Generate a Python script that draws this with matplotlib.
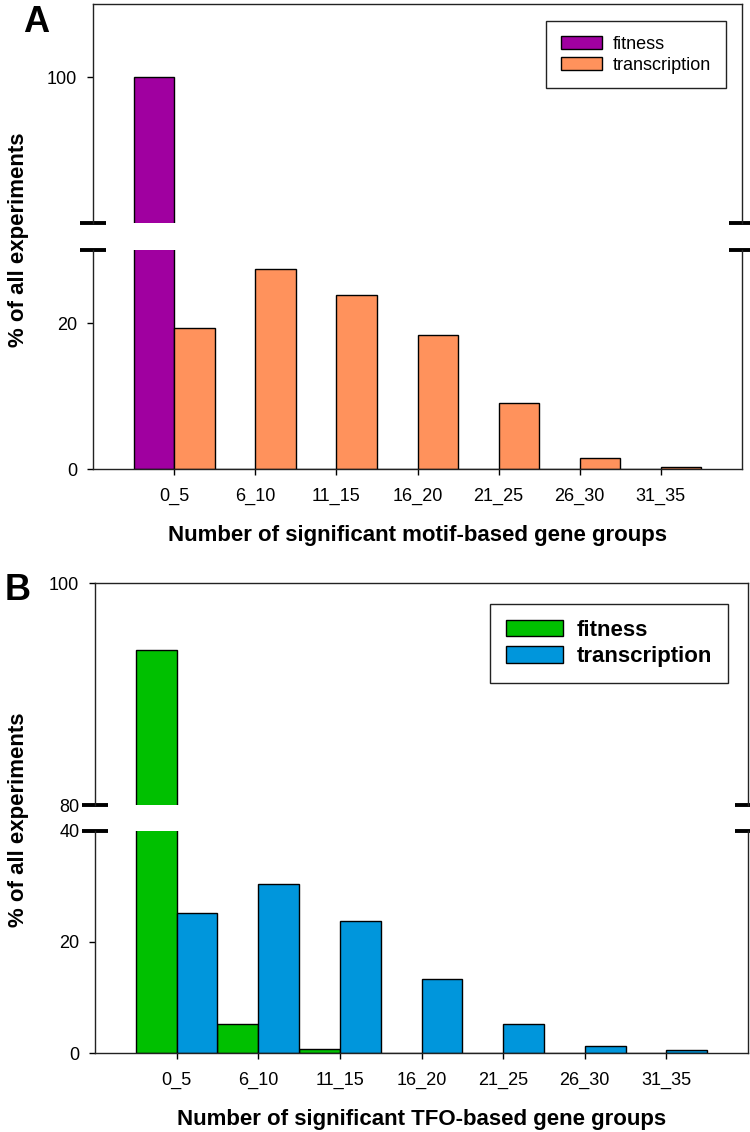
import numpy as np
import matplotlib
matplotlib.use("Agg")
import matplotlib.pyplot as plt

plt.rcParams['font.family'] = ['Liberation Sans', 'DejaVu Sans']

groups = ["0_5", "6_10", "11_15", "16_20", "21_25", "26_30", "31_35"]

# panel A: motif-based gene groups
motif_fitness = [100, 0, 0, 0, 0, 0, 0]
motif_transcription = [19.3, 27.4, 23.8, 18.4, 9.1, 1.5, 0.25]

# panel B: TFO-based gene groups
tfo_fitness = [94.0, 5.3, 0.7, 0, 0, 0, 0]
tfo_transcription = [25.3, 30.5, 23.7, 13.4, 5.2, 1.2, 0.6]

colors_a = ["#a000a0", "#ff925c"]
colors_b = ["#00c000", "#0096dc"]

W, H = 750, 1132
fig = plt.figure(figsize=(W / 100, H / 100), dpi=100)


def px_axes(x0, x1, y0, y1):
    return fig.add_axes([x0 / W, 1 - y1 / H, (x1 - x0) / W, (y1 - y0) / H])


def draw_panel(ax_top, ax_bot, fit, trans, colors, top_lim, bot_lim, top_ticks, bot_ticks,
               xlabel, leg_anchor, leg_bold):
    x = np.arange(len(groups))
    for ax in (ax_top, ax_bot):
        ax.bar(x - 0.25, fit, 0.5, color=colors[0], edgecolor="black", linewidth=1.0, label="fitness")
        ax.bar(x + 0.25, trans, 0.5, color=colors[1], edgecolor="black", linewidth=1.0, label="transcription")
        ax.set_xlim(-1, 7)
        for s in ax.spines.values():
            s.set_linewidth(1.0)
            s.set_color("#222222")
        ax.tick_params(axis="y", direction="out", length=4.3, width=1.0, pad=7, labelsize=13)
        ax.tick_params(axis="x", direction="out", length=4.3, width=1.0, labelsize=13)
    ax_top.set_ylim(*top_lim)
    ax_bot.set_ylim(*bot_lim)
    ax_top.set_yticks(top_ticks)
    ax_bot.set_yticks(bot_ticks)
    ax_top.spines["bottom"].set_visible(False)
    ax_bot.spines["top"].set_visible(False)
    ax_top.set_xticks([])
    ax_bot.set_xticks(x)
    ax_bot.set_xticklabels(groups)
    ax_bot.tick_params(axis="x", pad=9)
    ax_bot.set_xlabel(xlabel, fontsize=16, fontweight="bold", labelpad=15)

    # break marks
    d = 0.02
    for ax, yy in ((ax_top, 0), (ax_bot, 1)):
        for xx in (0, 1):
            ax.plot([xx - d, xx + d], [yy, yy], transform=ax.transAxes, color="black",
                    lw=2.8, clip_on=False, solid_capstyle="butt")

    leg = ax_top.legend(loc="upper right", bbox_to_anchor=leg_anchor, borderaxespad=0,
                        fancybox=False, framealpha=1, edgecolor="#222222",
                        prop={"size": 16 if leg_bold else 13, "weight": "bold" if leg_bold else "normal"},
                        handlelength=2.6 if leg_bold else 2.3, handleheight=0.75,
                        handletextpad=0.6, borderpad=0.7 if leg_bold else 0.8, labelspacing=0.25)
    leg.get_frame().set_linewidth(1.0)


a_top = px_axes(93, 742, 4, 223)
a_bot = px_axes(93, 742, 250, 469)
draw_panel(a_top, a_bot, motif_fitness, motif_transcription, colors_a,
           (80, 110), (0, 30), [100], [0, 20],
           "Number of significant motif-based gene groups", (0.975, 0.922), False)

b_top = px_axes(95, 748, 583, 805)
b_bot = px_axes(95, 748, 831, 1053)
draw_panel(b_top, b_bot, tfo_fitness, tfo_transcription, colors_b,
           (80, 100), (0, 40), [80, 100], [0, 20, 40],
           "Number of significant TFO-based gene groups", (0.969, 0.905), True)

fig.text(19 / W, 1 - 240 / H, "% of all experiments", rotation=90, fontsize=16,
         fontweight="bold", ha="center", va="center")
fig.text(19 / W, 1 - 820 / H, "% of all experiments", rotation=90, fontsize=16,
         fontweight="bold", ha="center", va="center")
fig.text(36 / W, 1 - 23 / H, "A", fontsize=26, fontweight="bold", ha="center", va="center")
fig.text(18 / W, 1 - 590 / H, "B", fontsize=26, fontweight="bold", ha="center", va="center")

fig.savefig("out.png", dpi=100)
